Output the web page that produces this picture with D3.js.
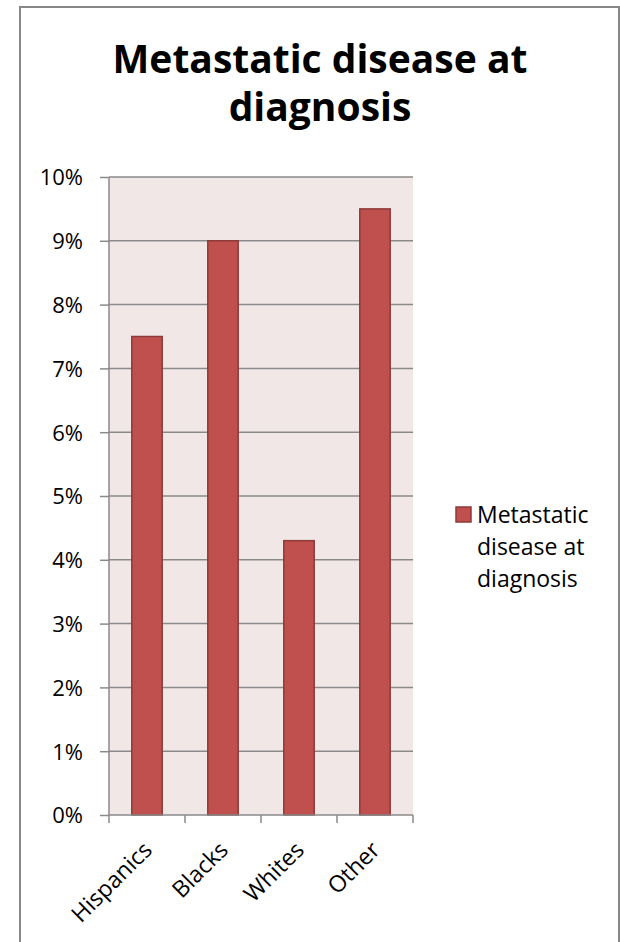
<!DOCTYPE html>
<html>
<head>
<meta charset="utf-8">
<script src="https://cdn.jsdelivr.net/npm/d3@7"></script>
<style>
  html, body { margin: 0; padding: 0; background: #fff; }
  svg { display: block; font-family: "Open Sans", "Noto Sans", sans-serif; }
</style>
</head>
<body>
<svg id="chart" width="620" height="942"></svg>
<script>
// Share of patients with metastatic disease at diagnosis, by group
const categories = ["Hispanics", "Blacks", "Whites", "Other"];
const values = [0.075, 0.090, 0.043, 0.095];
const yTicks = [0, 0.01, 0.02, 0.03, 0.04, 0.05, 0.06, 0.07, 0.08, 0.09, 0.10];
const seriesName = "Metastatic disease at diagnosis";
const titleLines = ["Metastatic disease at", "diagnosis"];
const legendLines = ["Metastatic", "disease at", "diagnosis"];

const FONT = "'Open Sans', 'Noto Sans', sans-serif";
const svg = d3.select("#chart");
const plot = { left: 109, right: 413, top: 177, bottom: 815 };

// Outer chart frame (open at the bottom)
svg.append("path")
  .attr("d", "M20,942 V7 H619 V942")
  .attr("fill", "none")
  .attr("stroke", "#878787")
  .attr("stroke-width", 2);

// Title
svg.append("text")
  .attr("text-anchor", "middle")
  .attr("font-weight", "bold")
  .attr("font-size", 39)
  .attr("fill", "#000")
  .selectAll("tspan")
  .data(titleLines)
  .join("tspan")
  .attr("x", 320)
  .attr("y", (d, i) => 73 + i * 48)
  .text(d => d);

const x = d3.scaleBand().domain(categories).range([plot.left, plot.right]);
const y = d3.scaleLinear().domain([0, 0.10]).range([plot.bottom, plot.top]);

// Plot area background
svg.append("rect")
  .attr("x", plot.left).attr("y", plot.top)
  .attr("width", plot.right - plot.left).attr("height", plot.bottom - plot.top)
  .attr("fill", "#F2E7E7");

// Horizontal gridlines
svg.append("g")
  .selectAll("line")
  .data(yTicks.filter(t => t > 0))
  .join("line")
  .attr("x1", plot.left).attr("x2", plot.right)
  .attr("y1", d => y(d)).attr("y2", d => y(d))
  .attr("stroke", "#8A8A8A").attr("stroke-width", 1.5);

// Bars
const barW = x.bandwidth() / 2.5;
svg.append("g")
  .selectAll("rect")
  .data(values)
  .join("rect")
  .attr("x", (d, i) => x(categories[i]) + (x.bandwidth() - barW) / 2)
  .attr("y", d => y(d))
  .attr("width", barW)
  .attr("height", d => y(0) - y(d))
  .attr("fill", "#C0504D")
  .attr("stroke", "#8E3A38")
  .attr("stroke-width", 1.5);

// Y axis
const yAxis = d3.axisLeft(y).tickValues(yTicks).tickFormat(d3.format(".0%")).tickSize(9).tickPadding(17);
const gy = svg.append("g").attr("transform", `translate(${plot.left},0)`).call(yAxis);
gy.attr("font-family", FONT).attr("font-size", 22);
gy.select(".domain").attr("stroke", "#8A8A8A").attr("stroke-width", 1.5).attr("d", `M0,${plot.top}V${plot.bottom}`);
gy.selectAll(".tick line").attr("stroke", "#8A8A8A").attr("stroke-width", 1.5);
gy.selectAll(".tick text").attr("fill", "#000").attr("dy", "0.36em");

// X axis: ticks at category boundaries
const gx = svg.append("g").attr("transform", `translate(0,${plot.bottom})`);
gx.append("line")
  .attr("x1", plot.left).attr("x2", plot.right)
  .attr("y1", 0).attr("y2", 0)
  .attr("stroke", "#8A8A8A").attr("stroke-width", 1.5);
const bounds = categories.map(c => x(c)).concat([plot.right]);
gx.selectAll("line.tk")
  .data(bounds)
  .join("line")
  .attr("class", "tk")
  .attr("x1", d => d).attr("x2", d => d)
  .attr("y1", 0).attr("y2", 8)
  .attr("stroke", "#8A8A8A").attr("stroke-width", 1.5);
gx.selectAll("text")
  .data(categories)
  .join("text")
  .attr("transform", d => `translate(${x(d) + x.bandwidth() / 2 - 5},${25}) rotate(-45)`)
  .attr("text-anchor", "end")
  .attr("dy", "0.7em")
  .attr("font-size", 23)
  .attr("fill", "#000")
  .text(d => d);

// Legend
const lg = svg.append("g").attr("aria-label", seriesName);
lg.append("rect")
  .attr("x", 456).attr("y", 507).attr("width", 15).attr("height", 15)
  .attr("fill", "#C0504D").attr("stroke", "#8E3A38").attr("stroke-width", 1.5);
lg.append("text")
  .attr("font-size", 23)
  .attr("fill", "#000")
  .selectAll("tspan")
  .data(legendLines)
  .join("tspan")
  .attr("x", 477)
  .attr("y", (d, i) => 523 + i * 32)
  .text(d => d);
</script>
</body>
</html>
